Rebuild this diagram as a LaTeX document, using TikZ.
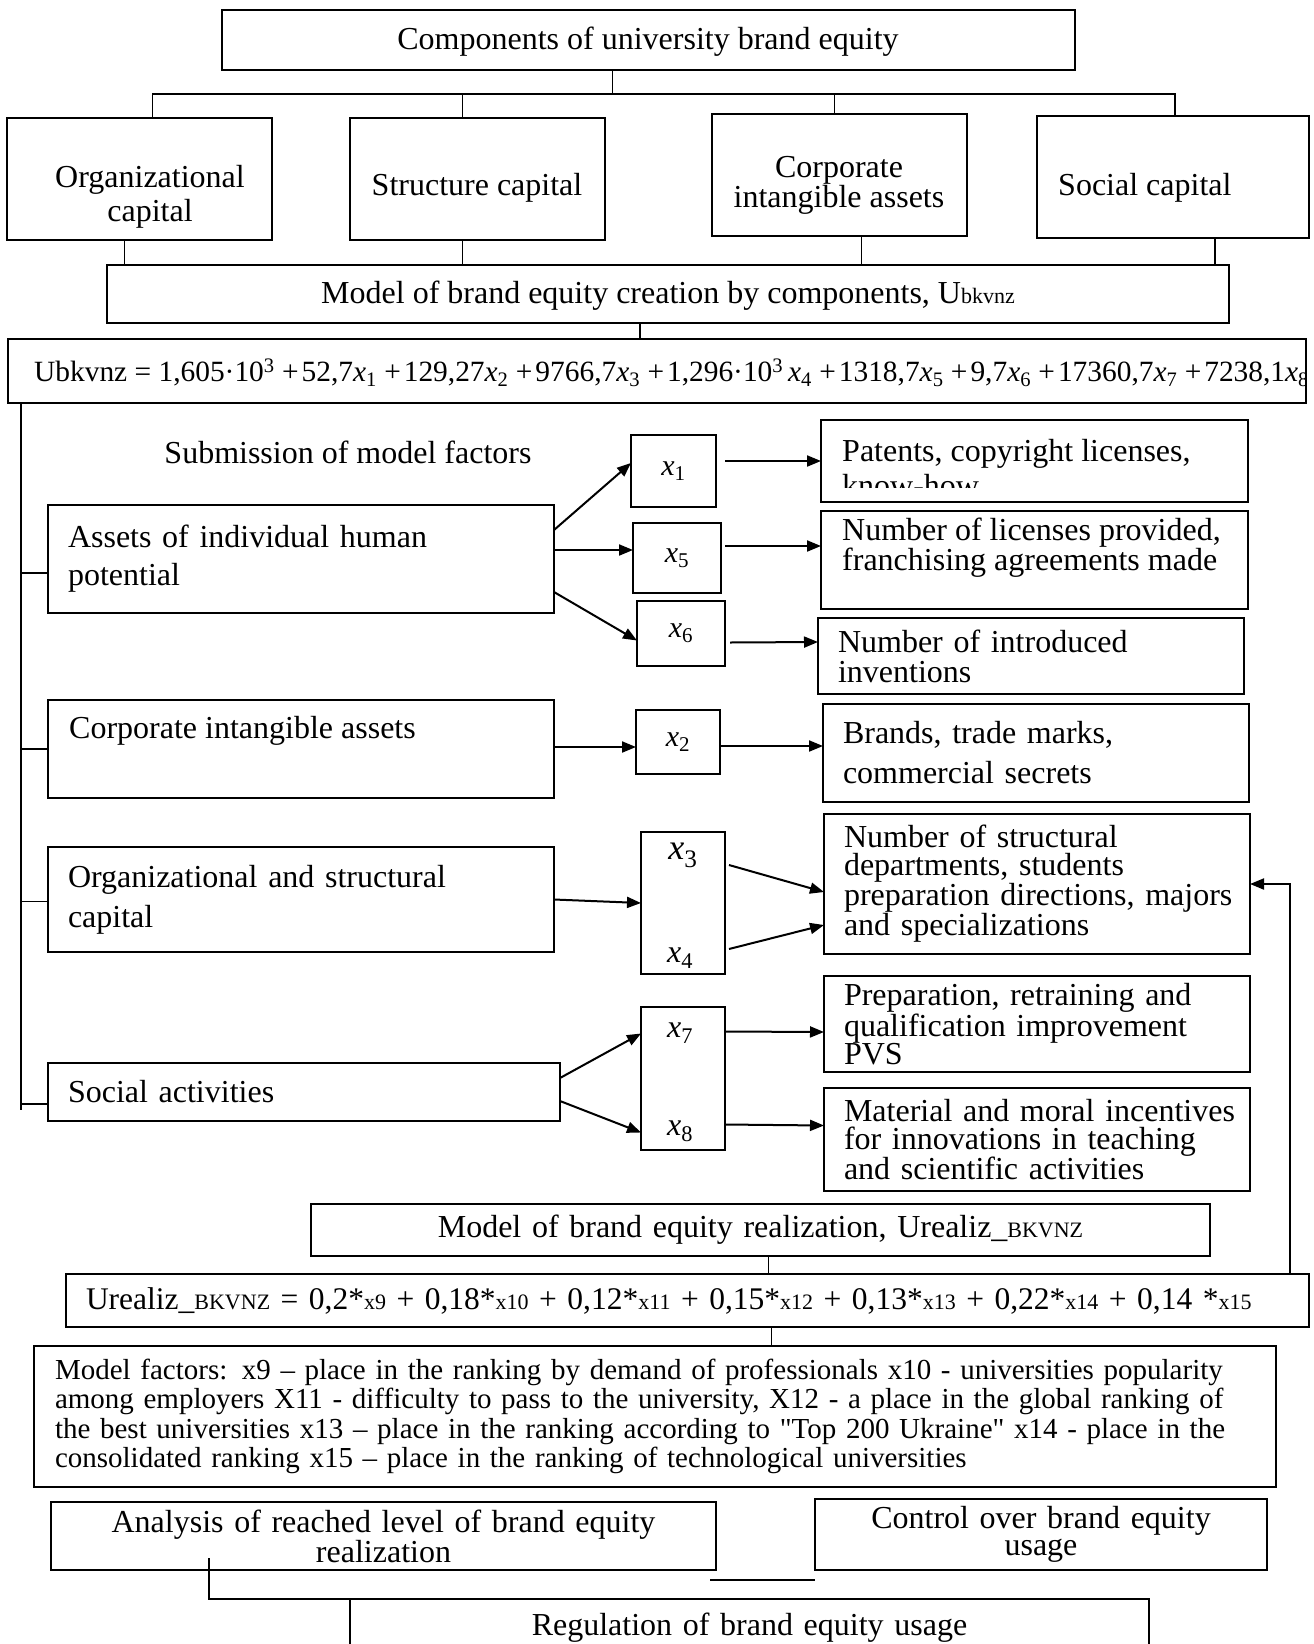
\documentclass[tikz,border=0pt]{standalone}
\usepackage{fontspec}
\setmainfont{Liberation Serif}
\usetikzlibrary{arrows.meta}

\newcommand{\xv}[1]{\textit{x}\textsubscript{#1}}
\newcommand{\sm}[1]{{\fontsize{22}{22}\selectfont #1}}
\newcommand{\pl}{+\kern3pt}

\tikzset{
  box/.style={draw, line width=1.6pt, inner xsep=20pt, inner ysep=0pt, outer sep=0pt,
    anchor=north west, align=left, font=\fontsize{32}{36}\selectfont},
  cbox/.style={box, align=center},
  xbox/.style={draw, line width=1.6pt, inner sep=0pt, outer sep=0pt, anchor=north west,
    font=\fontsize{30}{30}\selectfont},
  txt/.style={inner sep=0pt, font=\fontsize{32}{36}\selectfont},
  lead/.style={font=\fontsize{32}{#1}\selectfont},
  link/.style={line width=1.2pt},
  arr/.style={line width=2pt, -{Triangle[length=14pt,width=11pt]}},
}

\begin{document}
\begin{tikzpicture}[x=1pt,y=-1pt]
\useasboundingbox (0,0) rectangle (1314,1644);

% components
\node[cbox, text width=813pt, minimum height=60pt] (top) at (222,10) {};
\node[txt] (topt) at (648,42) {Components of university brand equity};
\node[box, text width=225pt, minimum height=122pt] (org) at (7,118) {};
\node[txt, align=center, lead=34] (orgt) at (150,197) {Organizational\\capital};
\node[box, text width=215pt, minimum height=122pt] (struc) at (350,118) {};
\node[txt] (struct) at (477,188) {Structure capital};
\node[box, text width=215pt, minimum height=122pt] (corp) at (712,114) {};
\node[txt, align=center, lead=30] (corpt) at (839,185) {Corporate\\intangible assets};
\node[box, text width=232pt, minimum height=122pt] (soc) at (1037,116) {};
\node[txt, anchor=west] (soct) at (1058,188) {Social capital};
\node[cbox, text width=1082pt, minimum height=58pt] (model) at (107,265) {};
\node[txt] (modelt) at (668,296) {Model of brand equity creation by components, U\sm{bkvnz}};
\node[box, text width=1248pt, inner xsep=25pt, minimum height=64pt] (fone) at (8,339) {};
\begin{scope}
  \clip (fone.north west) rectangle ([xshift=-1pt]fone.south east);
  \node[txt, anchor=west, font=\fontsize{29.4}{30}\selectfont] (fonet) at (34,373)
    {Ubkvnz = 1,605·10\textsuperscript{3} \pl52,7\xv{1} \pl129,27\xv{2} \pl9766,7\xv{3} \pl1,296·10\textsuperscript{3}\,\xv{4} \pl1318,7\xv{5} \pl9,7\xv{6} \pl17360,7\xv{7} \pl7238,1\xv{8}};
\end{scope}

\draw[link] ([xshift=-36pt]top.south) -- ++(0,24) coordinate (bar);
\draw[link] ([xshift=13pt]org.north) |- (bar) -| ([xshift=2pt]soc.north);
\draw[link] ([xshift=-15pt]struc.north) -- ++(0,-24);
\draw[link] ([xshift=-5pt]corp.north) -- ++(0,-20);
\draw[link] ([xshift=-15pt]org.south) -- ++(0,25);
\draw[link] ([xshift=-15pt]struc.south) -- ++(0,25);
\draw[link] ([xshift=22pt]corp.south) -- ++(0,29);
\draw[link] ([xshift=42pt]soc.south) -- ++(0,27);
\draw[link] ([xshift=-28pt]model.south) -- ++(0,16);

% factors
\node[txt] (sub) at (348,452) {Submission of model factors};
\node[box, text width=466pt, minimum height=108pt, lead=38] (assets) at (48,505) {Assets of individual human\\potential};
\node[box, text width=466pt, minimum height=98pt] (cia) at (48,700) {};
\node[txt, anchor=west] (ciat) at (69,731) {Corporate intangible assets};
\node[box, text width=466pt, minimum height=105pt, lead=40] (osc) at (48,847) {Organizational and structural\\capital};
\node[box, text width=472pt, minimum height=58pt] (sa) at (48,1063) {Social activities};

\draw[line width=1.6pt] ([xshift=13pt]fone.south west) coordinate (bus) -- ++(0,707);
\draw[link] ([yshift=-14pt]assets.west) -- ++(-27,0);
\draw[link] (cia.west) -- ++(-27,0);
\draw[link] ([yshift=-2pt]osc.west) -- ++(-27,0);
\draw[link] ([yshift=-12pt]sa.west) -- ++(-27,0);

\node[xbox, minimum width=85pt, minimum height=72pt] (xa) at (631,435) {\xv{1}};
\node[xbox, minimum width=88pt, minimum height=70pt] (xe) at (633,523) {\xv{5}};
\node[xbox, minimum width=88pt, minimum height=65pt] (xf) at (637,601) {\xv{6}};
\node[xbox, minimum width=84pt, minimum height=64pt] (xb) at (636,710) {\xv{2}};
\node[xbox, minimum width=84pt, minimum height=142pt] (xcd) at (641,832) {};
\node[xbox, minimum width=84pt, minimum height=143pt] (xgh) at (641,1007) {};
\begin{scope}
  \clip (xcd.north west) rectangle ([yshift=6pt]xcd.south east);
  \node[inner sep=0pt, font=\fontsize{36}{36}\selectfont] (xc) at (683,855) {\xv{3}};
  \node[inner sep=0pt, font=\fontsize{32}{32}\selectfont] (xd) at (680,958) {\xv{4}};
\end{scope}
\begin{scope}
  \clip (xgh.north west) rectangle ([yshift=6pt]xgh.south east);
  \node[inner sep=0pt, font=\fontsize{32}{32}\selectfont] (xg) at (680,1033) {\xv{7}};
  \node[inner sep=0pt, font=\fontsize{32}{32}\selectfont] (xh) at (680,1131) {\xv{8}};
\end{scope}

\node[box, text width=387pt, minimum height=82pt] (pat) at (821,420) {};
\begin{scope}
  \clip (pat.north west) rectangle ([yshift=15pt]pat.south east);
  \node[txt, anchor=west, align=left, lead=35] (patt) at (842,468) {Patents, copyright licenses,\\know-how};
\end{scope}
\node[box, text width=387pt, minimum height=98pt] (lic) at (821,511) {};
\node[txt, anchor=west, align=left, lead=27] (lict) at (842,548) {Number of licenses provided,\\franchising agreements made};
\node[box, text width=386pt, minimum height=76pt, lead=30] (inv) at (818,618) {Number of introduced\\inventions};
\node[box, text width=386pt, minimum height=98pt, lead=40] (brand) at (823,704) {Brands, trade marks,\\commercial secrets};
\node[box, text width=386pt, minimum height=140pt, lead=28] (nsd) at (824,814) {Number of structural\\departments, students\\\mbox{preparation directions, majors}\\and specializations};
\node[box, text width=386pt, minimum height=96pt, lead=28] (prep) at (824,976) {\mbox{Preparation, retraining and}\\qualification improvement\\PVS};
\node[box, text width=386pt, minimum height=103pt, lead=28] (mat) at (824,1088) {\mbox{Material and moral incentives}\\\mbox{for innovations in teaching}\\and scientific activities};

\draw[arr] ([yshift=29pt]assets.east) -- ([yshift=8pt]xa.west);
\draw[arr] ([yshift=9pt]assets.east) -- ([yshift=8pt]xe.west);
\draw[arr] ([yshift=-33pt]assets.east) -- ([yshift=-7pt]xf.west);
\draw[arr] ([shift={(9,-10)}]xa.east) -- (pat.west);
\draw[arr] ([shift={(4,-12)}]xe.east) -- ([yshift=14pt]lic.west);
\draw[arr] ([shift={(5,9)}]xf.east) -- ([yshift=14pt]inv.west);
\draw[arr] ([yshift=2pt]cia.east) -- ([yshift=-5pt]xb.west);
\draw[arr] ([yshift=-4pt]xb.east) -- ([yshift=7pt]brand.west);
\draw[arr] (osc.east) -- (xcd.west);
\draw[arr] ([shift={(4,-38)}]xcd.east) -- ([yshift=-8pt]nsd.west);
\draw[arr] ([shift={(4,46)}]xcd.east) -- ([yshift=-41pt]nsd.west);
\draw[arr] ([yshift=14pt]sa.east) -- ([yshift=45pt]xgh.west);
\draw[arr] ([yshift=-9pt]sa.east) -- ([yshift=-54pt]xgh.west);
\draw[arr] ([yshift=47pt]xgh.east) -- ([yshift=-8pt]prep.west);
\draw[arr] ([yshift=-46pt]xgh.east) -- ([yshift=14pt]mat.west);

% realization
\node[cbox, text width=859pt, minimum height=52pt] (real) at (311,1204) {Model of brand equity realization, Urealiz\_\sm{BKVNZ}};
\node[box, text width=1203pt, minimum height=53pt, font=\fontsize{31.5}{32}\selectfont] (ftwo) at (66,1274)
  {\mbox{Urealiz\_\sm{BKVNZ} = 0,2*\sm{x9} + 0,18*\sm{x10} + 0,12*\sm{x11} + 0,15*\sm{x12} + 0,13*\sm{x13} + 0,22*\sm{x14} + 0,14 *\sm{x15}}};
\node[box, text width=1200pt, inner xsep=21pt, minimum height=141pt, font=\fontsize{29}{29.4}\selectfont] (fac) at (34,1346)
  {Model factors: x9 -- place in the ranking by demand of professionals x10 - universities popularity\\
   among employers X11 - difficulty to pass to the university, X12 - a place in the global ranking of\\
   the best universities x13 -- place in the ranking according to \textquotedbl Top 200 Ukraine\textquotedbl{} x14 - place in the\\
   consolidated ranking x15 -- place in the ranking of technological universities};
\node[cbox, text width=625pt, minimum height=68pt, lead=25] (ana) at (51,1502) {Analysis of reached level of brand equity\\realization};
\node[cbox, text width=412pt, minimum height=71pt, lead=27] (ctrl) at (815,1499) {Control over brand equity\\usage};
\node[cbox, text width=759pt, minimum height=58pt] (reg) at (350,1599) {Regulation of brand equity usage};

\draw[link] ([xshift=8pt]real.south) -- ++(0,18);
\draw[link] ([xshift=84pt]ftwo.south) -- ++(0,19);
\draw[arr] ([xshift=-19pt]ftwo.north east) |- (nsd.east);
\draw[line width=1.6pt] ([shift={(-6,10)}]ana.south east) -- ([shift={(0,10)}]ctrl.south west);
\draw[link] ([shift={(158,-12)}]ana.south west) |- (reg.north west);
\end{tikzpicture}
\end{document}
